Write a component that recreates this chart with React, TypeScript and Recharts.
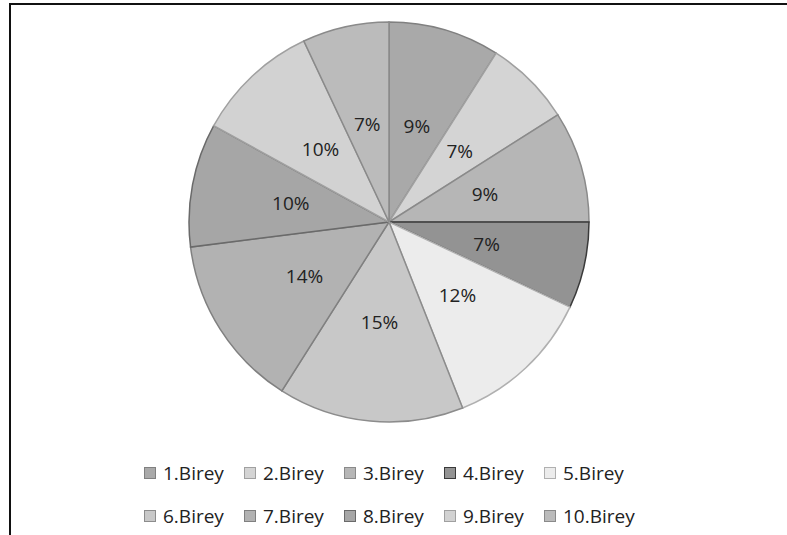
import React from 'react';
import { PieChart, Pie, Cell, Legend } from 'recharts';

// slice names and shares (%) read clockwise from 12 o'clock
const names = ['1.Birey', '2.Birey', '3.Birey', '4.Birey', '5.Birey', '6.Birey', '7.Birey', '8.Birey', '9.Birey', '10.Birey'];
const shares = [9, 7, 9, 7, 12, 15, 14, 10, 10, 7];
const fills = ['#a9a9a9', '#d4d4d4', '#b6b6b6', '#939393', '#ececec', '#c8c8c8', '#b2b2b2', '#a6a6a6', '#d2d2d2', '#bbbbbb'];
const strokes = ['#808080', '#a0a0a0', '#8a8a8a', '#3a3a3a', '#b0b0b0', '#8c8c8c', '#808080', '#6a6a6a', '#a0a0a0', '#8a8a8a'];

const data = names.map((name, i) => ({ name, value: shares[i] }));

const RAD = Math.PI / 180;
const FONT = '"Open Sans", "Noto Sans", sans-serif';

const renderLabel = (props: any) => {
  const { cx, cy, midAngle, outerRadius, value } = props;
  const r = outerRadius * 0.5;
  const x = cx + r * Math.cos(-midAngle * RAD);
  const y = cy + r * Math.sin(-midAngle * RAD);
  return (
    <text x={x} y={y} fill="#222" fontSize={19} fontFamily={FONT} textAnchor="middle" dominantBaseline="central">
      {`${value}%`}
    </text>
  );
};

const renderLegend = () => (
  <div style={{ display: 'flex', flexWrap: 'wrap', width: 500, rowGap: 18 }}>
    {names.map((name, i) => (
      <div key={name} style={{ width: 100, height: 25, display: 'flex', alignItems: 'center', fontFamily: FONT, fontSize: 19, color: '#222', whiteSpace: 'nowrap' }}>
        <span style={{ display: 'inline-block', width: 10, height: 10, background: fills[i], border: `1px solid ${strokes[i]}`, marginRight: 7 }} />
        {name}
      </div>
    ))}
  </div>
);

export default function App() {
  return (
    <div style={{ position: 'absolute', left: 9, top: 3, width: 776, height: 530, borderTop: '2px solid #111', borderLeft: '2px solid #111', background: '#fff' }}>
      <PieChart width={774} height={528}>
        <Pie
          data={data}
          dataKey="value"
          nameKey="name"
          cx={373}
          cy={212}
          outerRadius={200}
          startAngle={90}
          endAngle={-270}
          label={renderLabel}
          labelLine={false}
          isAnimationActive={false}
        >
          {data.map((d, i) => (
            <Cell key={d.name} fill={fills[i]} stroke={strokes[i]} strokeWidth={1.5} />
          ))}
        </Pie>
        <Legend content={renderLegend} wrapperStyle={{ left: 133, top: 455, width: 520 }} />
      </PieChart>
    </div>
  );
}
